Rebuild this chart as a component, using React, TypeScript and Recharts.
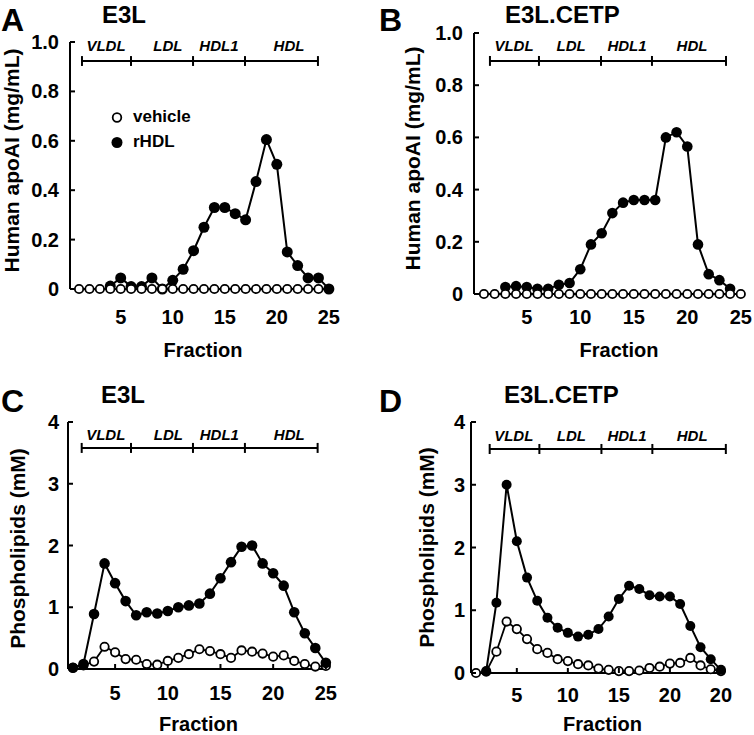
import React from "react";
import { LineChart, Line, XAxis, YAxis, ReferenceLine, ReferenceDot, Legend } from "recharts";

const FONT = "'Liberation Sans', Arial, Helvetica, sans-serif";

const fractions = [1, 2, 3, 4, 5, 6, 7, 8, 9, 10, 11, 12, 13, 14, 15, 16, 17, 18, 19, 20, 21, 22, 23, 24, 25];

// A: human apoAI, E3L
const apoE3LVehicle = [0, 0, 0, 0, 0, 0, 0, 0, 0, 0, 0, 0, 0, 0, 0, 0, 0, 0, 0, 0, 0, 0, 0, 0, null];
const apoE3LRhdl = [null, null, null, 0.012, 0.045, 0.01, 0.01, 0.045, 0, 0.035, 0.08, 0.155, 0.25, 0.33, 0.33, 0.305, 0.28, 0.435, 0.605, 0.505, 0.15, 0.095, 0.045, 0.045, 0];

// B: human apoAI, E3L.CETP
const apoCetpVehicle = [0, 0, 0, 0, 0, 0, 0, 0, 0, 0, 0, 0, 0, 0, 0, 0, 0, 0, 0, 0, 0, 0, 0, 0, 0];
const apoCetpRhdl = [null, null, 0.027, 0.03, 0.027, 0.02, 0.02, 0.035, 0.042, 0.095, 0.19, 0.233, 0.31, 0.35, 0.36, 0.36, 0.36, 0.6, 0.62, 0.565, 0.19, 0.076, 0.053, 0.02, null];

// C: phospholipids, E3L
const plE3LVehicle = [0.02, 0.06, 0.12, 0.36, 0.27, 0.16, 0.15, 0.08, 0.07, 0.13, 0.18, 0.24, 0.32, 0.29, 0.24, 0.18, 0.3, 0.28, 0.25, 0.2, 0.22, 0.13, 0.08, 0.04, 0.05];
const plE3LRhdl = [0.02, 0.08, 0.89, 1.71, 1.39, 1.1, 0.87, 0.92, 0.9, 0.94, 1.0, 1.03, 1.06, 1.22, 1.47, 1.73, 1.98, 2.0, 1.71, 1.55, 1.35, 0.92, 0.58, 0.34, 0.1];

// D: phospholipids, E3L.CETP
const plCetpVehicle = [0, 0.02, 0.34, 0.82, 0.7, 0.54, 0.38, 0.32, 0.22, 0.19, 0.14, 0.12, 0.07, 0.05, 0.03, 0.03, 0.04, 0.08, 0.1, 0.15, 0.16, 0.24, 0.12, 0.06, 0.03];
const plCetpRhdl = [null, 0.03, 1.12, 3.0, 2.1, 1.52, 1.15, 0.88, 0.72, 0.64, 0.58, 0.61, 0.7, 0.9, 1.18, 1.39, 1.34, 1.24, 1.22, 1.22, 1.1, 0.75, 0.41, 0.22, 0.05];

const xTicks = [5, 10, 15, 20, 25];
const xTickLabels = ["5", "10", "15", "20", "25"];
const xTickLabelsD = ["5", "10", "15", "20", "20"]; // as printed in the figure
const apoTicks = [0, 0.2, 0.4, 0.6, 0.8, 1.0];
const plTicks = [0, 1, 2, 3, 4];
const bracketNames = ["VLDL", "LDL", "HDL1", "HDL"];

const makeRows = (vehicle: (number | null)[], rhdl: (number | null)[]) =>
  fractions.map((f, i) => ({ fraction: f, vehicle: vehicle[i], rHDL: rhdl[i] }));

const apoFmt = (v: number) => (v === 0 ? "0" : v.toFixed(1));
const plFmt = (v: number) => String(v);

const YTick = (props: any) => {
  const { x, y, payload, gap, fmt } = props;
  return (
    <g>
      <line x1={x + gap} x2={x + gap + 5} y1={y} y2={y} stroke="#000" strokeWidth={2} />
      <text x={x} y={y} dy="0.35em" textAnchor="end" fontFamily={FONT} fontWeight={700} fontSize={20} fill="#000">
        {fmt(payload.value)}
      </text>
    </g>
  );
};

const XTick = (props: any) => {
  const { x, y, payload, gap, labels, marks } = props;
  const label = labels[xTicks.indexOf(payload.value)];
  return (
    <g>
      {marks && <line x1={x} x2={x} y1={y - gap} y2={y - gap - 5} stroke="#000" strokeWidth={2} />}
      <text x={x} y={y} dy="0.35em" textAnchor="middle" fontFamily={FONT} fontWeight={700} fontSize={20} fill="#000">
        {label}
      </text>
    </g>
  );
};

const LegendBox = (props: any) => {
  const items = [...(props.payload || [])].sort((a: any, b: any) => (a.value === "vehicle" ? -1 : b.value === "vehicle" ? 1 : 0));
  return (
    <div style={{ fontFamily: FONT, fontWeight: 700, fontSize: 17, color: "#000" }}>
      {items.map((it: any) => (
        <div key={it.value} style={{ display: "flex", alignItems: "center", height: 25 }}>
          <svg width={16} height={25}>
            {it.value === "vehicle" ? (
              <circle cx={8} cy={12.5} r={4.3} fill="#fff" stroke="#000" strokeWidth={1.8} />
            ) : (
              <circle cx={8} cy={12.5} r={5.5} fill="#000" />
            )}
          </svg>
          <span style={{ marginLeft: 8 }}>{it.value}</span>
        </div>
      ))}
    </div>
  );
};

type Panel = {
  rows: any[];
  plot: { left: number; top: number; right: number; bottom: number };
  xDomain: [number, number];
  yDomain: [number, number];
  yTicks: number[];
  yFmt: (v: number) => string;
  xLabels: string[];
  xMarks: boolean;
  yGap: number;
  xGap: number;
  yTitle: string;
  yTitleOffset: number;
  yTitleDy: number;
  xTitleDx: number;
  xTitleDy: number;
  bracketY: number;
  bracketH: number;
  bounds: number[];
  labelY: number;
  labelXs: number[];
  openOnTop: boolean;
  filledR: number;
  legend?: boolean;
};

const panels: Panel[] = [
  {
    rows: makeRows(apoE3LVehicle, apoE3LRhdl),
    plot: { left: 70, top: 42, right: 332, bottom: 289 },
    xDomain: [0.13, 25.3],
    yDomain: [0, 1],
    yTicks: apoTicks,
    yFmt: apoFmt,
    xLabels: xTickLabels,
    xMarks: false,
    yGap: 11,
    xGap: 28,
    yTitle: "Human apoAI (mg/mL)",
    yTitleOffset: 51,
    yTitleDy: -5,
    xTitleDx: 2,
    xTitleDy: 68,
    bracketY: 0.923,
    bracketH: 0.02,
    bounds: [1.28, 5.99, 11.95, 16.94, 23.95],
    labelY: 0.984,
    labelXs: [3.59, 9.54, 14.44, 21.17],
    openOnTop: true,
    filledR: 5.5,
    legend: true,
  },
  {
    rows: makeRows(apoCetpVehicle, apoCetpRhdl),
    plot: { left: 474, top: 33, right: 744, bottom: 294 },
    xDomain: [0.07, 25.3],
    yDomain: [0, 1],
    yTicks: apoTicks,
    yFmt: apoFmt,
    xLabels: xTickLabels,
    xMarks: false,
    yGap: 11,
    xGap: 23,
    yTitle: "Human apoAI (mg/mL)",
    yTitleOffset: 54,
    yTitleDy: -5,
    xTitleDx: 10,
    xTitleDy: 63,
    bracketY: 0.893,
    bracketH: 0.019,
    bounds: [1.56, 6.14, 11.94, 16.7, 23.62],
    labelY: 0.95,
    labelXs: [3.81, 9.14, 14.37, 20.44],
    openOnTop: true,
    filledR: 5.3,
  },
  {
    rows: makeRows(plE3LVehicle, plE3LRhdl),
    plot: { left: 68, top: 422, right: 329, bottom: 669 },
    xDomain: [0.53, 25.3],
    yDomain: [0, 4],
    yTicks: plTicks,
    yFmt: plFmt,
    xLabels: xTickLabels,
    xMarks: true,
    yGap: 9,
    xGap: 24,
    yTitle: "Phospholipids (mM)",
    yTitleOffset: 43,
    yTitleDy: 3,
    xTitleDx: 0,
    xTitleDy: 62,
    bracketY: 3.58,
    bracketH: 0.081,
    bounds: [1.83, 6.51, 12.39, 17.32, 24.22],
    labelY: 3.79,
    labelXs: [4.11, 10.05, 14.89, 21.53],
    openOnTop: false,
    filledR: 5.3,
  },
  {
    rows: makeRows(plCetpVehicle, plCetpRhdl),
    plot: { left: 471, top: 422, right: 724, bottom: 673 },
    xDomain: [0.51, 25.3],
    yDomain: [0, 4],
    yTicks: plTicks,
    yFmt: plFmt,
    xLabels: xTickLabelsD,
    xMarks: true,
    yGap: 6,
    xGap: 22,
    yTitle: "Phospholipids (mM)",
    yTitleOffset: 37,
    yTitleDy: 0,
    xTitleDx: 5,
    xTitleDy: 58,
    bracketY: 3.57,
    bracketH: 0.08,
    bounds: [2.34, 7.21, 13.29, 18.28, 25.48],
    labelY: 3.79,
    labelXs: [4.7, 10.34, 15.8, 22.18],
    openOnTop: false,
    filledR: 5,
  },
];

function PanelChart({ p }: { p: Panel }) {
  const vehicleLine = (
    <Line
      key="vehicle"
      dataKey="vehicle"
      name="vehicle"
      stroke="#000"
      strokeWidth={1.8}
      dot={{ r: 4.2, fill: "#fff", stroke: "#000", strokeWidth: 1.8 }}
      activeDot={false}
      isAnimationActive={false}
      legendType="circle"
    />
  );
  const rhdlLine = (
    <Line
      key="rhdl"
      dataKey="rHDL"
      name="rHDL"
      stroke="#000"
      strokeWidth={2}
      dot={{ r: p.filledR, fill: "#000", stroke: "#000", strokeWidth: 0 }}
      activeDot={false}
      isAnimationActive={false}
      legendType="circle"
    />
  );
  return (
    <div style={{ position: "absolute", left: 0, top: 0 }}>
      <LineChart
        width={754}
        height={735}
        data={p.rows}
        margin={{ top: p.plot.top, left: p.plot.left - 40, right: 754 - p.plot.right, bottom: 735 - p.plot.bottom - 30 }}
      >
        <XAxis
          dataKey="fraction"
          type="number"
          domain={p.xDomain}
          ticks={xTicks}
          interval={0}
          height={30}
          axisLine={{ stroke: "#000", strokeWidth: 2 }}
          tickLine={false}
          tickSize={0}
          tickMargin={p.xGap}
          tick={(t: any) => <XTick {...t} gap={p.xGap} labels={p.xLabels} marks={p.xMarks} />}
          label={(lp: any) => {
            const vb = lp.viewBox || {};
            return (
              <text x={vb.x + vb.width / 2 + p.xTitleDx} y={vb.y + p.xTitleDy} textAnchor="middle" fontFamily={FONT} fontWeight={700} fontSize={20} fill="#000">
                Fraction
              </text>
            );
          }}
        />
        <YAxis
          type="number"
          domain={p.yDomain}
          ticks={p.yTicks}
          interval={0}
          width={40}
          axisLine={{ stroke: "#000", strokeWidth: 2 }}
          tickLine={false}
          tickSize={0}
          tickMargin={p.yGap}
          tick={(t: any) => <YTick {...t} gap={p.yGap} fmt={p.yFmt} />}
          label={(lp: any) => {
            const vb = lp.viewBox || {};
            const cx = vb.x + vb.width - p.yTitleOffset;
            const cy = vb.y + vb.height / 2 + p.yTitleDy;
            return (
              <text x={cx} y={cy} transform={`rotate(-90, ${cx}, ${cy})`} textAnchor="middle" fontFamily={FONT} fontWeight={700} fontSize={21} fill="#000">
                {p.yTitle}
              </text>
            );
          }}
        />
        <ReferenceLine
          segment={[{ x: p.bounds[0], y: p.bracketY }, { x: p.bounds[p.bounds.length - 1], y: p.bracketY }]}
          stroke="#000"
          strokeWidth={2}
          ifOverflow="visible"
        />
        {p.bounds.map((b, i) => (
          <ReferenceLine
            key={"b" + i}
            segment={[{ x: b, y: p.bracketY - p.bracketH }, { x: b, y: p.bracketY + p.bracketH }]}
            stroke="#000"
            strokeWidth={2}
            ifOverflow="visible"
          />
        ))}
        {bracketNames.map((n, i) => (
          <ReferenceDot
            key={n}
            x={p.labelXs[i]}
            y={p.labelY}
            r={0}
            fill="none"
            stroke="none"
            ifOverflow="visible"
            label={{ value: n, position: "center", fill: "#000", fontSize: 15, fontWeight: 700, fontStyle: "italic", fontFamily: FONT }}
          />
        ))}
        {p.openOnTop ? [rhdlLine, vehicleLine] : [vehicleLine, rhdlLine]}
        {p.legend && (
          <Legend
            layout="vertical"
            align="center"
            verticalAlign="middle"
            content={LegendBox}
            wrapperStyle={{ left: 109, top: 104.5, width: 120 }}
          />
        )}
      </LineChart>
    </div>
  );
}

const headings = [
  { letter: "A", lx: 1, ly: 31, title: "E3L", tx: 102, ty: 23 },
  { letter: "B", lx: 379, ly: 31, title: "E3L.CETP", tx: 505, ty: 23 },
  { letter: "C", lx: 1, ly: 412, title: "E3L", tx: 101, ty: 403 },
  { letter: "D", lx: 379, ly: 412, title: "E3L.CETP", tx: 504, ty: 403 },
];

export default function App() {
  return (
    <div style={{ position: "absolute", left: 0, top: 0, width: 754, height: 735, background: "#fff" }}>
      {panels.map((p, i) => (
        <PanelChart key={i} p={p} />
      ))}
      <svg width={754} height={735} style={{ position: "absolute", left: 0, top: 0, pointerEvents: "none" }}>
        {headings.map((h) => (
          <g key={h.letter} fontFamily={FONT} fontWeight={700} fill="#000">
            <text x={h.lx} y={h.ly} fontSize={32}>
              {h.letter}
            </text>
            <text x={h.tx} y={h.ty} fontSize={24}>
              {h.title}
            </text>
          </g>
        ))}
      </svg>
    </div>
  );
}
